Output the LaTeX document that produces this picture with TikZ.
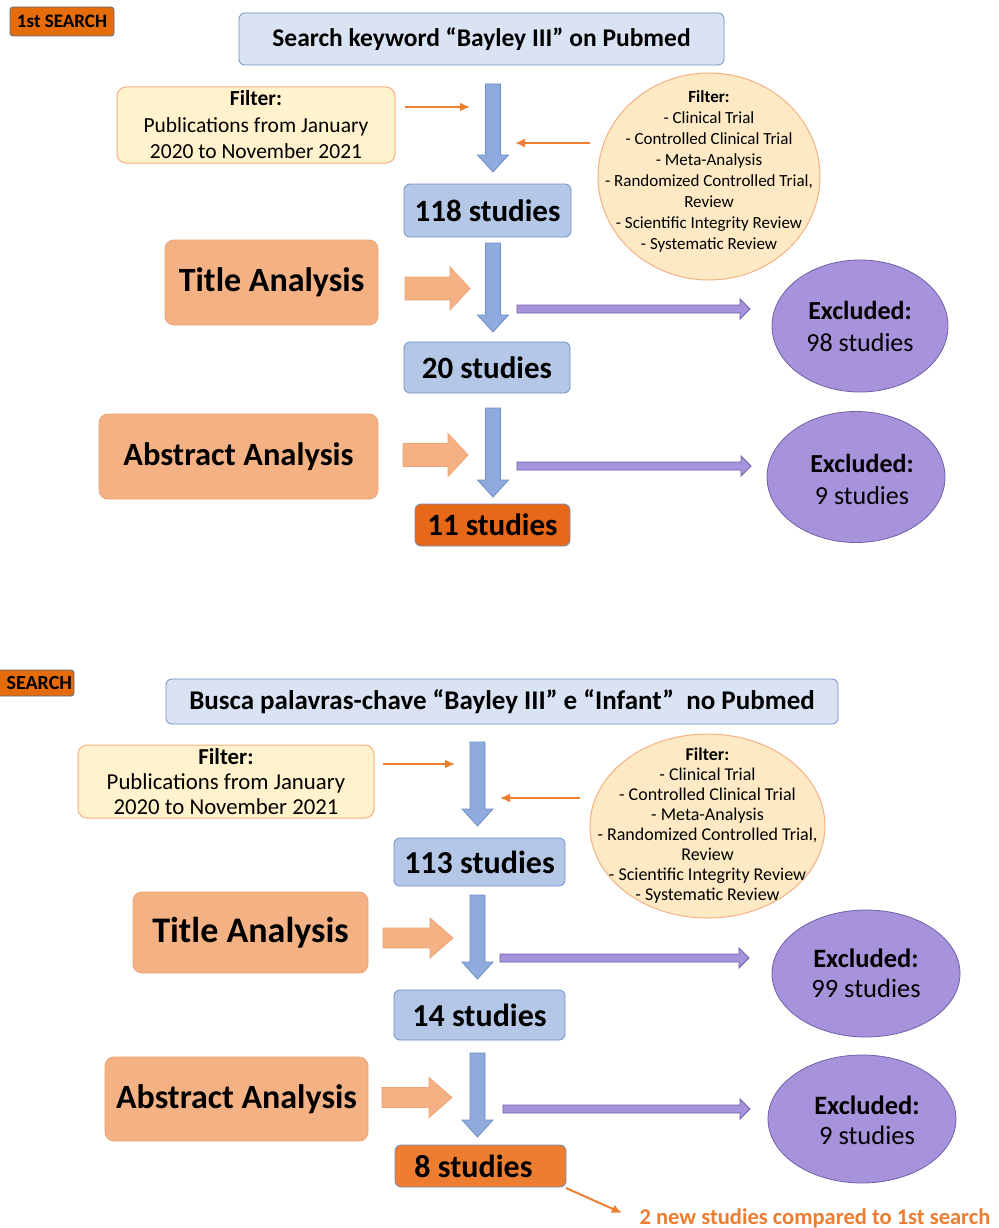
\documentclass[tikz,border=0pt]{standalone}
\usepackage{fontspec}
\setmainfont{Carlito}
\usetikzlibrary{shapes.geometric,arrows.meta}
\definecolor{tagorange}{HTML}{E46C0A}
\definecolor{darkorange}{HTML}{E8681A}
\definecolor{midorange}{HTML}{ED7D31}
\definecolor{paleblue}{HTML}{DAE3F3}
\definecolor{lightblue}{HTML}{B4C7E7}
\definecolor{arrowblue}{HTML}{8FAADC}
\definecolor{edgeblue}{HTML}{6F8FC4}
\definecolor{salmon}{HTML}{F4B183}
\definecolor{salmonedge}{HTML}{EFA274}
\definecolor{cream}{HTML}{FFF2CC}
\definecolor{creamell}{HTML}{FDE9C4}
\definecolor{lilac}{HTML}{A693DB}
\definecolor{lilacedge}{HTML}{6F60A8}
\definecolor{tagedge}{HTML}{5E6E8C}
\newcommand{\fs}[2]{\fontsize{#1}{#2}\selectfont}
\newcommand{\varrow}[3]{\draw[blockblue] (#1-7.5,#2) -- (#1+7.5,#2) -- (#1+7.5,#3-17) -- (#1+15.5,#3-17) -- (#1,#3) -- (#1-15.5,#3-17) -- (#1-7.5,#3-17) -- cycle;}
\newcommand{\harrow}[7]{\draw[#7] (#1,#3-#4) -- (#2-#6,#3-#4) -- (#2-#6,#3-#5) -- (#2,#3) -- (#2-#6,#3+#5) -- (#2-#6,#3+#4) -- (#1,#3+#4) -- cycle;}
\begin{document}
\begin{tikzpicture}[x=1pt,y=-1pt,
  box/.style={rounded corners=6pt, line width=0.8pt, inner sep=0pt, align=center},
  tagbox/.style={box, rounded corners=3pt, fill=tagorange, draw=tagedge},
  searchbox/.style={box, fill=paleblue, draw=edgeblue},
  studybox/.style={box, fill=lightblue, draw=edgeblue},
  finalbox/.style={box, draw=edgeblue},
  analysisbox/.style={box, rounded corners=9pt, fill=salmon, draw=salmonedge},
  filterbox/.style={box, rounded corners=9pt, fill=cream, draw=salmon, line width=1pt},
  filterell/.style={ellipse, inner sep=0pt, fill=creamell, draw=salmon, line width=1pt},
  exclell/.style={ellipse, inner sep=0pt, fill=lilac, draw=lilacedge, line width=0.8pt},
  elltext/.style={inner sep=0pt, align=center},
  blockblue/.style={fill=arrowblue, draw=edgeblue, line width=0.8pt},
  blocksalmon/.style={fill=salmon, draw=salmonedge, line width=0.8pt},
  blocklilac/.style={fill=lilac, draw=lilacedge, line width=0.8pt},
  thin/.style={draw=midorange, line width=2pt, -{Latex[length=10pt,width=9pt]}}
]
\useasboundingbox (0,0) rectangle (998,1228);
\clip (0,0) rectangle (998,1228);
\fill[white] (0,0) rectangle (998,1228);

% ---------- first search ----------
\node[tagbox, font=\bfseries\fs{19}{22}, minimum width=104pt, minimum height=29pt] (tag1) at (62,21.5) {1st SEARCH};
\node[searchbox, font=\bfseries\fs{25.5}{30}, minimum width=485pt, minimum height=52pt] (search1) at (481.5,39) {Search keyword “Bayley III” on Pubmed};
\node[filterbox, font=\fs{21.5}{26.5}, minimum width=278pt, minimum height=76pt] (filt1) at (256,125) {\textbf{Filter:}\\Publications from January\\2020 to November 2021};
\node[filterell, minimum width=222pt, minimum height=207pt] (ell1) at (709,176.5) {};
\node[elltext, font=\fs{17}{21}] (ell1t) at ([yshift=5.5pt]ell1.center) {\textbf{Filter:}\\- Clinical Trial\\- Controlled Clinical Trial\\- Meta-Analysis\\- Randomized Controlled Trial,\\Review\\- Scientific Integrity Review\\- Systematic Review};
\node[studybox, font=\bfseries\fs{31}{36}, minimum width=167pt, minimum height=53pt] (s118) at (487.5,210.5) {118 studies};
\node[analysisbox, font=\bfseries\fs{34}{40}, minimum width=213pt, minimum height=85pt] (title1) at (271.5,282.5) {Title Analysis};
\node[exclell, minimum width=176pt, minimum height=132pt] (exc1) at (860,326) {};
\node[elltext, font=\fs{26}{32}] (exc1t) at (exc1.center) {\textbf{Excluded:}\\98 studies};
\node[studybox, font=\bfseries\fs{31}{36}, minimum width=166pt, minimum height=51pt] (s20) at (487,367.5) {20 studies};
\node[analysisbox, font=\bfseries\fs{32.5}{38}, minimum width=279pt, minimum height=85pt] (abs1) at (238.5,456.5) {Abstract Analysis};
\node[exclell, minimum width=178pt, minimum height=131pt] (exc2) at (856,477) {};
\node[elltext, font=\fs{26}{32}] (exc2t) at ([xshift=6pt,yshift=-2pt]exc2.center) {\textbf{Excluded:}\\9 studies};
\node[finalbox, fill=darkorange, font=\bfseries\fs{31}{36}, minimum width=155pt, minimum height=42pt] (s11) at (492.5,525) {11 studies};

\varrow{493}{84}{172}
\varrow{493}{243}{332}
\varrow{493}{408}{497}
\harrow{405}{470}{288.5}{11.5}{21.5}{20}{blocksalmon}
\harrow{403}{468}{455}{11.5}{21.5}{20}{blocksalmon}
\harrow{517}{750}{309}{4}{10}{10}{blocklilac}
\harrow{517}{751}{466}{4}{10}{10}{blocklilac}
\coordinate (o1a) at (405,107); \coordinate (o1b) at (470,107);
\coordinate (o2a) at (590,143); \coordinate (o2b) at (515,143);
\draw[thin] (o1a) -- (o1b);
\draw[thin] (o2a) -- (o2b);

% ---------- second search ----------
\node[tagbox, font=\bfseries\fs{20}{23}, minimum height=26pt, text width=110pt, align=right, inner xsep=2pt] (tag2) at (17,683) {SEARCH};
\node[searchbox, font=\bfseries\fs{27}{32}, minimum width=672pt, minimum height=45pt] (search2) at (502,701.5) {Busca palavras-chave “Bayley III” e “Infant”\ \ no Pubmed};
\node[filterbox, font=\fs{22.8}{25}, minimum width=296pt, minimum height=73pt] (filt2) at (226,781.5) {\textbf{Filter:}\\Publications from January\\2020 to November 2021};
\node[filterell, minimum width=235pt, minimum height=184pt] (ell2) at (707.5,826) {};
\node[elltext, font=\fs{18}{20}] (ell2t) at (ell2.center) {\textbf{Filter:}\\- Clinical Trial\\- Controlled Clinical Trial\\- Meta-Analysis\\- Randomized Controlled Trial,\\Review\\- Scientific Integrity Review\\- Systematic Review};
\node[studybox, font=\bfseries\fs{32}{37}, minimum width=171pt, minimum height=48pt] (s113) at (479.5,862) {113 studies};
\node[analysisbox, font=\bfseries\fs{36}{42}, minimum width=235pt, minimum height=81pt] (title2) at (250.5,932.5) {Title Analysis};
\node[exclell, minimum width=188pt, minimum height=127pt] (exc3) at (866,973.5) {};
\node[elltext, font=\fs{26.5}{30}] (exc3t) at (exc3.center) {\textbf{Excluded:}\\99 studies};
\node[studybox, font=\bfseries\fs{32}{37}, minimum width=171pt, minimum height=50pt] (s14) at (479.5,1015) {14 studies};
\node[analysisbox, font=\bfseries\fs{34}{40}, minimum width=263pt, minimum height=84pt] (abs2) at (236.5,1099) {Abstract Analysis};
\node[exclell, minimum width=188pt, minimum height=128pt] (exc4) at (862,1119) {};
\node[elltext, font=\fs{26.5}{30}] (exc4t) at ([xshift=5pt,yshift=-1pt]exc4.center) {\textbf{Excluded:}\\9 studies};
\node[finalbox, fill=midorange, font=\bfseries\fs{32}{37}, minimum width=171pt, minimum height=42pt] (s8) at (480.5,1166) {8 studies\hspace*{14pt}};
\node[font=\bfseries\fs{22.5}{26}, text=midorange, inner sep=0pt] (note) at (815,1218) {2 new studies compared to 1st search};

\varrow{477.5}{742}{826}
\varrow{477.5}{895}{979}
\varrow{477.5}{1053}{1137}
\harrow{383}{453}{938}{10}{20}{23}{blocksalmon}
\harrow{382}{452}{1097.5}{10}{20}{23}{blocksalmon}
\harrow{500}{749}{958}{4}{10}{10}{blocklilac}
\harrow{503}{750}{1109}{4}{10}{10}{blocklilac}
\coordinate (o3a) at (383,764); \coordinate (o3b) at (455,764);
\coordinate (o4a) at (580,798); \coordinate (o4b) at (500,798);
\coordinate (o5a) at (566,1188); \coordinate (o5b) at (622,1213);
\draw[thin] (o3a) -- (o3b);
\draw[thin] (o4a) -- (o4b);
\draw[thin] (o5a) -- (o5b);
\end{tikzpicture}
\end{document}
